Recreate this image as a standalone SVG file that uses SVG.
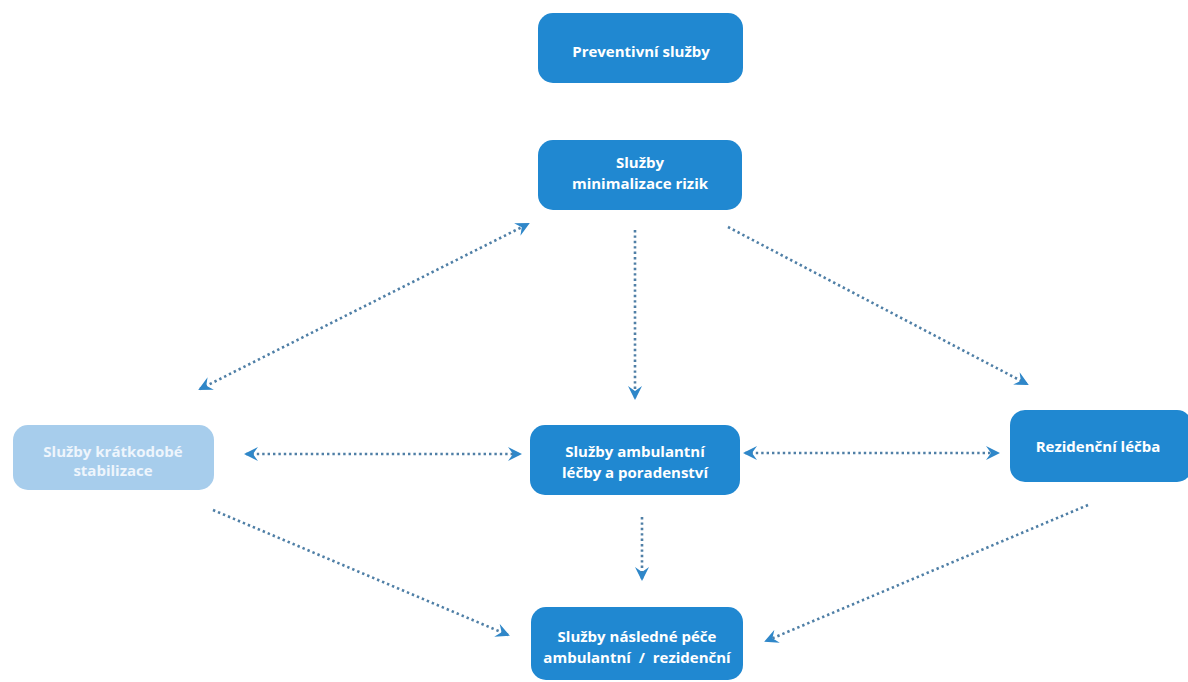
<svg xmlns="http://www.w3.org/2000/svg" width="1188" height="682" viewBox="0 0 1188 682">
<defs>
<style>
.box{fill:#2088d1;}
.light{fill:#a7cdec;}
.t{font-family:"Open Sans","Liberation Sans",sans-serif;font-weight:700;font-size:15px;fill:#ffffff;text-anchor:middle;white-space:pre;}
.tl{fill:#eef5fc;}
.c{fill:none;stroke:#4f7fa6;stroke-width:2.6;stroke-dasharray:2.4 3;}
</style>
<marker id="ah" viewBox="0 0 14 14" refX="12" refY="7" markerWidth="14" markerHeight="14" markerUnits="userSpaceOnUse" orient="auto-start-reverse">
<path d="M0,0 L14,7 L0,14 L5,7 Z" fill="#2f87c9"/>
</marker>
</defs>
<rect width="1188" height="682" fill="#ffffff"/>
<g id="connectors">
<line class="c" x1="200" y1="389" x2="528" y2="224" marker-start="url(#ah)" marker-end="url(#ah)"/>
<line class="c" x1="635" y1="230" x2="635" y2="398" marker-end="url(#ah)"/>
<line class="c" x1="728" y1="227" x2="1027" y2="384" marker-end="url(#ah)"/>
<line class="c" x1="246" y1="454" x2="520" y2="454" marker-start="url(#ah)" marker-end="url(#ah)"/>
<line class="c" x1="745" y1="453" x2="998" y2="453" marker-start="url(#ah)" marker-end="url(#ah)"/>
<line class="c" x1="642" y1="517" x2="642" y2="579" marker-end="url(#ah)"/>
<line class="c" x1="213" y1="510" x2="508" y2="635" marker-end="url(#ah)"/>
<line class="c" x1="1088" y1="505" x2="766" y2="641" marker-end="url(#ah)"/>
</g>
<g id="n-preventivni">
<rect class="box" x="538" y="13" width="205" height="70" rx="15"/>
<text class="t" x="641" y="57">Preventivní služby</text>
</g>
<g id="n-minimalizace">
<rect class="box" x="538" y="140" width="204" height="70" rx="15"/>
<text class="t" x="640" y="168">Služby</text>
<text class="t" x="640" y="189">minimalizace rizik</text>
</g>
<g id="n-stabilizace">
<rect class="light" x="13" y="425" width="201" height="65" rx="15"/>
<text class="t tl" x="113" y="457">Služby krátkodobé</text>
<text class="t tl" x="113" y="476">stabilizace</text>
</g>
<g id="n-ambulantni">
<rect class="box" x="530" y="425" width="210" height="70" rx="15"/>
<text class="t" x="635" y="457">Služby ambulantní</text>
<text class="t" x="635" y="478">léčby a poradenství</text>
</g>
<g id="n-rezidencni">
<rect class="box" x="1010" y="410" width="182" height="72" rx="15"/>
<text class="t" x="1098" y="452">Rezidenční léčba</text>
</g>
<g id="n-nasledne">
<rect class="box" x="531" y="607" width="212" height="73" rx="15"/>
<text class="t" x="637" y="642">Služby následné péče</text>
<text class="t" x="637" y="663" xml:space="preserve">ambulantní  /  rezidenční</text>
</g>
</svg>
